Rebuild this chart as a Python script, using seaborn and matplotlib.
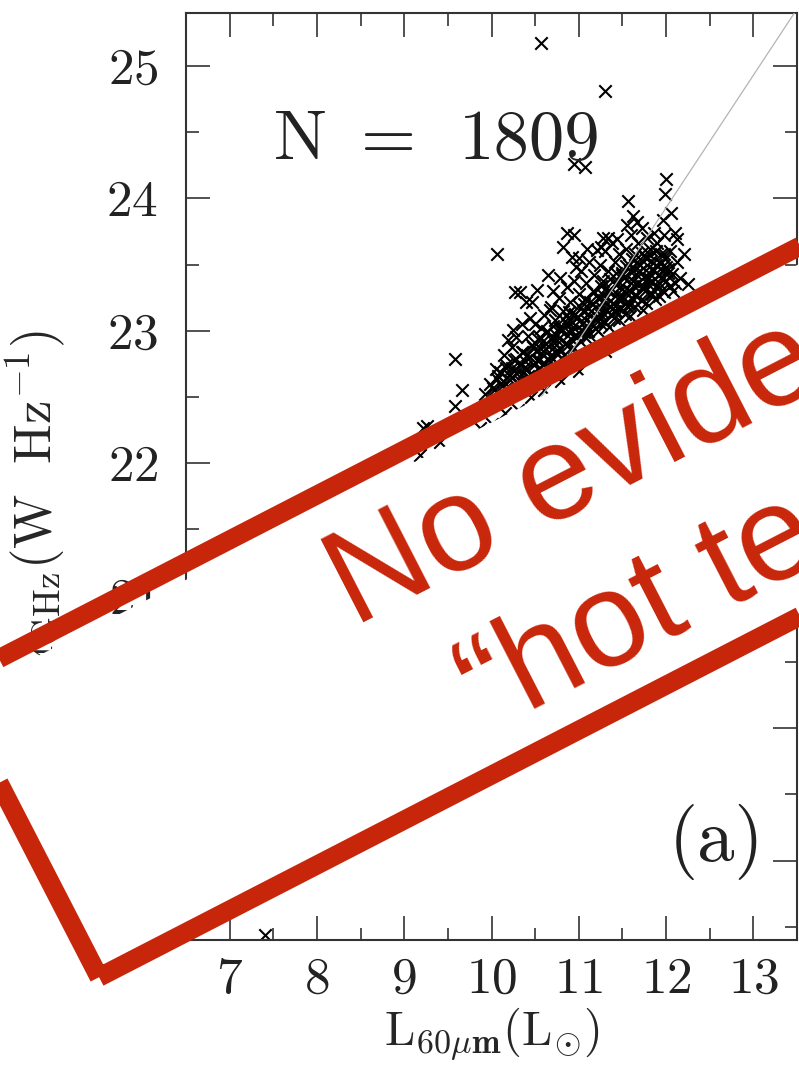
import numpy as np
import pandas as pd
import matplotlib
matplotlib.use("Agg")
import matplotlib.pyplot as plt
import seaborn as sns
from matplotlib.patches import Polygon
from matplotlib.ticker import MultipleLocator

# ---------------- data ----------------
# sparse / outlying sources
sparse_l60 = [10.57, 11.30, 10.94, 11.07, 12.00, 11.99, 11.56, 11.62, 12.06, 11.96,
              12.12, 10.95, 11.28, 10.92, 12.00, 10.06, 10.87, 10.82, 11.44, 11.21,
              10.33, 10.52, 10.40, 10.25, 9.58, 9.66, 9.58, 9.26, 9.41, 9.18,
              9.22, 9.87, 7.40, 10.27, 10.46, 10.67,
              9.92, 9.98, 10.03, 10.08, 10.12, 10.17, 10.21, 10.26, 10.05, 10.14, 10.23, 10.30, 10.28, 10.19,
              10.33, 10.36, 10.38, 10.42, 10.45, 10.47, 10.50, 10.52, 10.55, 10.58, 10.60, 10.35, 10.44, 10.57, 10.62,
              10.64, 10.66, 10.68, 10.71, 10.73, 10.75, 10.77, 10.80, 10.82, 10.84, 10.86, 10.88, 10.70, 10.79, 10.65, 10.90,
              10.92, 10.94, 10.96, 10.98, 11.00, 11.02, 11.04, 11.06, 11.08, 11.10, 11.12, 11.14, 11.16, 11.18, 11.20, 11.00, 11.09, 10.97,
              11.22, 11.24, 11.26, 11.28, 11.30, 11.32, 11.34, 11.36, 11.38, 11.40, 11.42, 11.44, 11.46, 11.48, 11.33, 11.25, 11.50,
              11.52, 11.54, 11.56, 11.58, 11.60, 11.62, 11.64, 11.66, 11.68, 11.70, 11.72, 11.74, 11.76, 11.78, 11.55, 11.67, 11.80,
              11.82, 11.84, 11.86, 11.88, 11.90, 11.92, 11.94, 11.98, 12.02, 12.05, 12.08, 12.12, 12.16, 12.20, 12.25, 12.10,
              9.50, 9.80, 10.00, 10.30, 10.60, 11.00, 11.30, 10.80, 10.45, 10.15]
sparse_l14 = [25.17, 24.81, 24.26, 24.24, 24.15, 24.03, 23.98, 23.87, 23.89, 23.84,
              23.69, 23.72, 23.70, 23.56, 23.48, 23.58, 23.74, 23.63, 23.69, 23.61,
              23.29, 23.31, 23.22, 23.01, 22.79, 22.55, 22.43, 22.28, 22.16, 22.06,
              22.27, 22.27, 18.44, 23.29, 23.22, 23.16,
              22.52, 22.60, 22.55, 22.66, 22.58, 22.72, 22.63, 22.78, 22.71, 22.82, 22.88, 22.70, 22.95, 22.93,
              22.62, 22.84, 22.73, 22.96, 22.67, 22.88, 23.05, 22.78, 22.95, 22.70, 23.12, 23.05, 23.10, 23.02, 22.86,
              23.00, 22.78, 23.18, 22.92, 23.08, 22.83, 23.25, 23.02, 23.15, 22.90, 23.33, 23.10, 23.30, 23.40, 23.42, 23.22,
              23.00, 23.38, 23.13, 22.95, 23.28, 23.45, 23.05, 23.20, 23.36, 23.00, 23.52, 23.15, 23.30, 23.42, 23.08, 23.55, 23.62, 23.48,
              23.25, 23.50, 23.12, 23.38, 23.60, 23.20, 23.45, 23.30, 23.66, 23.15, 23.52, 23.36, 23.58, 23.24, 23.70, 23.63, 23.44,
              23.30, 23.62, 23.18, 23.50, 23.72, 23.38, 23.58, 23.26, 23.66, 23.45, 23.78, 23.34, 23.56, 23.70, 23.80, 23.82, 23.40,
              23.62, 23.28, 23.74, 23.50, 23.66, 23.36, 23.58, 23.72, 23.44, 23.60, 23.30, 23.52, 23.40, 23.58, 23.35, 23.74,
              21.90, 22.10, 22.30, 22.40, 22.55, 22.70, 22.85, 22.62, 22.50, 22.38]

# dense core of the correlation (just above the stamp border)
core_l60 = [10.02, 10.11, 10.16,
            10.06, 10.13, 10.23, 10.29,
            10.10, 10.20, 10.26, 10.36, 10.42,
            10.17, 10.23, 10.33, 10.39, 10.49, 10.55,
            10.28, 10.38, 10.44, 10.54, 10.60, 10.70,
            10.35, 10.41, 10.51, 10.57, 10.67, 10.73, 10.83,
            10.46, 10.56, 10.62, 10.72, 10.78, 10.88, 10.94,
            10.53, 10.59, 10.69, 10.75, 10.85, 10.91, 11.01, 11.07,
            10.64, 10.74, 10.80, 10.90, 10.96, 11.06, 11.12, 11.22,
            10.71, 10.77, 10.87, 10.93, 11.03, 11.09, 11.19, 11.25, 11.35,
            10.82, 10.92, 10.98, 11.08, 11.14, 11.24, 11.30, 11.40, 11.46,
            10.89, 10.95, 11.05, 11.11, 11.21, 11.27, 11.37, 11.43, 11.53, 11.59,
            11.00, 11.10, 11.16, 11.26, 11.32, 11.42, 11.48, 11.58, 11.64, 11.74,
            11.07, 11.13, 11.23, 11.29, 11.39, 11.45, 11.55, 11.61, 11.71, 11.77, 11.87,
            11.18, 11.28, 11.34, 11.44, 11.50, 11.60, 11.66, 11.76, 11.82, 11.92, 11.98,
            11.25, 11.31, 11.41, 11.47, 11.57, 11.63, 11.73, 11.79, 11.89, 11.95, 12.05,
            11.36, 11.46, 11.52, 11.62, 11.68, 11.78, 11.84, 11.94, 12.00, 12.10,
            11.43, 11.49, 11.59, 11.65, 11.75, 11.81, 11.91, 11.97, 12.07,
            11.54, 11.64, 11.70, 11.80, 11.86, 11.96, 12.02,
            11.61, 11.67, 11.77, 11.83, 11.93, 11.99,
            11.72, 11.82, 11.88, 11.98]
core_l14 = [22.57, 22.60, 22.56,
            22.64, 22.62, 22.65, 22.61,
            22.69, 22.67, 22.70, 22.68, 22.66,
            22.74, 22.72, 22.75, 22.71, 22.74, 22.72,
            22.79, 22.77, 22.80, 22.78, 22.76, 22.79,
            22.84, 22.82, 22.85, 22.83, 22.81, 22.84, 22.82,
            22.89, 22.87, 22.90, 22.88, 22.86, 22.89, 22.87,
            22.94, 22.92, 22.95, 22.93, 22.91, 22.94, 22.92, 22.95,
            22.99, 22.97, 23.00, 22.98, 22.96, 22.99, 22.97, 23.00,
            23.04, 23.02, 23.05, 23.03, 23.01, 23.04, 23.02, 23.05, 23.03,
            23.09, 23.07, 23.10, 23.08, 23.06, 23.09, 23.07, 23.10, 23.08,
            23.14, 23.12, 23.15, 23.13, 23.11, 23.14, 23.12, 23.15, 23.13, 23.11,
            23.19, 23.17, 23.20, 23.18, 23.16, 23.19, 23.17, 23.20, 23.18, 23.16,
            23.24, 23.22, 23.25, 23.23, 23.21, 23.24, 23.22, 23.25, 23.23, 23.21, 23.24,
            23.29, 23.27, 23.30, 23.28, 23.26, 23.29, 23.27, 23.30, 23.28, 23.26, 23.29,
            23.34, 23.32, 23.35, 23.33, 23.31, 23.34, 23.32, 23.35, 23.33, 23.31, 23.34,
            23.39, 23.37, 23.40, 23.38, 23.36, 23.39, 23.37, 23.40, 23.38, 23.36,
            23.44, 23.42, 23.45, 23.43, 23.41, 23.44, 23.42, 23.45, 23.43,
            23.49, 23.47, 23.50, 23.48, 23.46, 23.49, 23.47,
            23.54, 23.52, 23.55, 23.53, 23.51, 23.54,
            23.59, 23.57, 23.60, 23.58]

fit_x = [6.5, 13.5]
fit_y = [18.43, 25.43]

x_ticks = [7, 8, 9, 10, 11, 12, 13]
y_ticks = [19, 20, 21, 22, 23, 24, 25]

n_parts = ["N", "=", "1809"]
panel_label = "(a)"
stamp_line1 = "No evidence"
stamp_line2 = "\u201chot te"
RED = "#C8260A"

df = pd.DataFrame({"l60": sparse_l60 + core_l60, "l14": sparse_l14 + core_l14})

# ---------------- style ----------------
sns.set_theme(style="ticks")
plt.rcParams["font.family"] = ["cmr10", "DejaVu Serif"]
plt.rcParams["mathtext.fontset"] = "cm"
plt.rcParams["axes.formatter.use_mathtext"] = True

W_PX, H_PX = 799, 1073
fig = plt.figure(figsize=(W_PX / 100, H_PX / 100), dpi=100)
fig.patch.set_facecolor("white")

ax = fig.add_axes([186 / W_PX, (H_PX - 940) / H_PX, 611 / W_PX, 927 / H_PX])
ax.set_facecolor("white")

sns.scatterplot(data=df, x="l60", y="l14", marker="x", color="black",
                s=80, linewidth=1.5, legend=False, ax=ax, zorder=2)
ax.plot(fit_x, fit_y, color="#b4b4b4", lw=0.9, zorder=3)

ax.set_xlim(6.5, 13.5)
ax.set_ylim(18.4, 25.4)
ax.set_xticks(x_ticks)
ax.set_yticks(y_ticks)
ax.xaxis.set_minor_locator(MultipleLocator(0.5))
ax.yaxis.set_minor_locator(MultipleLocator(0.5))
ax.tick_params(which="both", direction="in", top=True, right=True,
               colors="#222222", width=1.1, labelsize=37, labelcolor="#222222")
ax.tick_params(which="major", length=17)
ax.tick_params(which="minor", length=9)
ax.tick_params(axis="x", which="major", pad=12)
ax.tick_params(axis="y", which="major", pad=20)
for sp in ax.spines.values():
    sp.set_visible(True)
    sp.set_linewidth(1.5)
    sp.set_color("#333333")

ax.set_xlabel(r"$\mathrm{L_{\mathbf{60}\mu\mathbf{m}}(L_{\odot})}$", fontsize=35, labelpad=2)
ax.set_ylabel(r"$\mathrm{L_{1.4GHz}(W\ \ Hz^{-1})}$", fontsize=38)
ax.yaxis.set_label_coords(-0.195, 0.443)

# ---------------- overlay (pixel coordinates, y down) ----------------
ov = fig.add_axes([0, 0, 1, 1])
ov.set_xlim(0, W_PX)
ov.set_ylim(H_PX, 0)
ov.set_axis_off()

for part, xpos in zip(n_parts, [274, 361, 459]):
    ov.text(xpos, 159, part, fontsize=51, ha="left", va="baseline", color="#222222", zorder=1)
ov.text(717, 842, panel_label, fontsize=54, ha="center", va="center", color="#222222", zorder=1)

th = np.deg2rad(27.25)
u = np.array([np.cos(th), -np.sin(th)])
nv = np.array([-np.sin(th), -np.cos(th)])
P0 = np.array([95.0, 990.0])
H, L, b, gap = 348.0, 1300.0, 19.0, 6.0
c0 = P0 + b / 2 * u + b / 2 * nv
c1 = c0 + (L - b) * u
c2 = c1 + (H - b) * nv
c3 = c0 + (H - b) * nv
f3 = P0 + b / 2 * u + (H - b - gap) * nv
f2 = f3 + (L - b) * u
ov.add_patch(Polygon([c0, c1, f2, f3], closed=True, facecolor="white",
                     edgecolor="none", zorder=5))
ov.add_patch(Polygon([c0, c1, c2, c3], closed=True, fill=False, edgecolor=RED,
                     lw=b * 0.72, joinstyle="miter", zorder=6))

ang = np.rad2deg(th)
ov.text(354, 627, stamp_line1, color=RED, fontsize=97, family=["Liberation Sans", "DejaVu Sans"],
        rotation=ang, rotation_mode="anchor", ha="left", va="baseline", zorder=7)
ov.text(487, 733, stamp_line2, color=RED, fontsize=97, family=["Liberation Sans", "DejaVu Sans"],
        rotation=ang, rotation_mode="anchor", ha="left", va="baseline", zorder=7)

fig.savefig("out.png", dpi=100, facecolor="white")
